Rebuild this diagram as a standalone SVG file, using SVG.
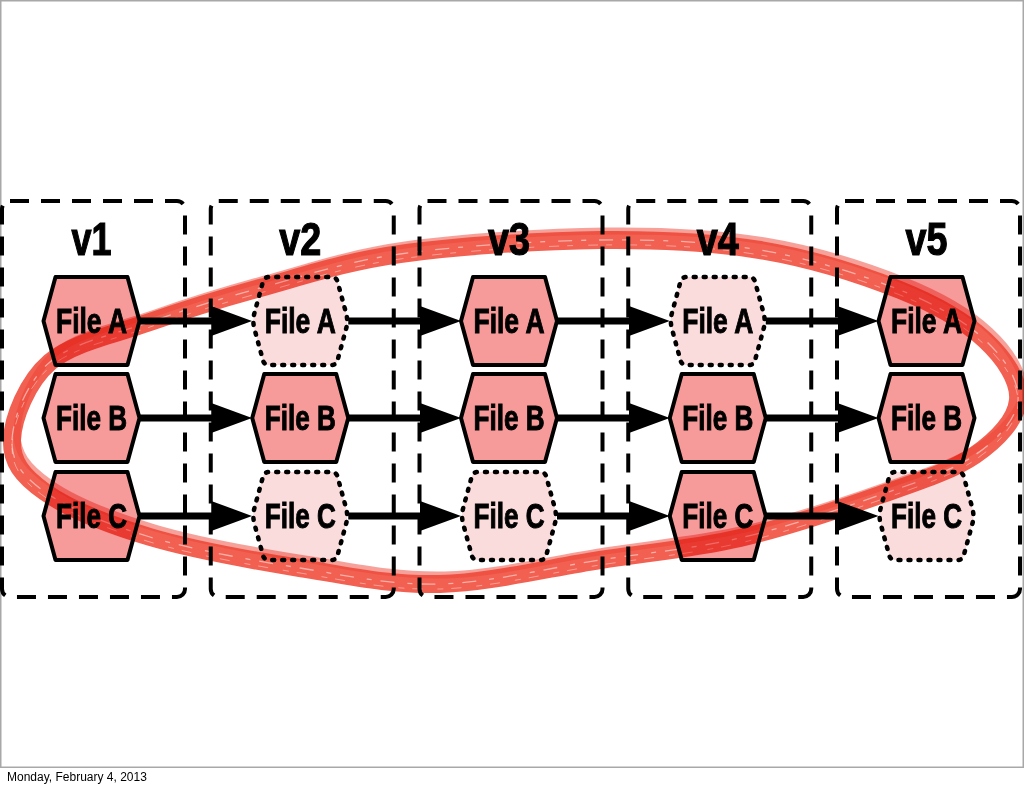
<svg xmlns="http://www.w3.org/2000/svg" xmlns:xlink="http://www.w3.org/1999/xlink" width="1024" height="788" viewBox="0 0 1024 788">
<style>
.frame{fill:#ffffff;stroke:#a8a8a8;stroke-width:1.5}
.box{fill:none;stroke:#000;stroke-width:4;stroke-dasharray:19 12}
.title{font-family:"Liberation Sans",Arial,sans-serif;font-weight:bold;font-size:46px;fill:#000;stroke:#000;stroke-width:1.2;text-anchor:middle}
.lbl{font-family:"Liberation Sans",Arial,sans-serif;font-weight:bold;font-size:35px;fill:#000;stroke:#000;stroke-width:1;text-anchor:middle}
.solid{fill:#f79a9a;stroke:#000;stroke-width:4;stroke-linejoin:round}
.dotted{fill:#fbdcdc;stroke:#000;stroke-width:4.5;stroke-dasharray:2 8;stroke-linecap:round}
.arrow{stroke:#000;stroke-width:7;fill:none;marker-end:url(#head)}
.loop{fill:none;stroke:#ee4433;stroke-linecap:round;stroke-linejoin:round}
.foot{font-family:"Liberation Sans",Arial,sans-serif;font-size:12px;fill:#000}
</style>
<defs>
<marker id="head" markerUnits="userSpaceOnUse" markerWidth="41" markerHeight="30" viewBox="0 0 41 30" refX="26" refY="15" orient="auto">
<path d="M0,0 L41,15 L0,30 Z" fill="#000"/>
</marker>
<polygon id="hexS" class="solid" points="-48,0 -36,-44 36,-44 48,0 36,44 -36,44"/>
<path id="hexD" class="dotted" d="M-45.8,-8 Q-48,0 -45.8,8 L-37.2,39.6 Q-36,44 -31,44 L31,44 Q36,44 37.2,39.6 L45.8,8 Q48,0 45.8,-8 L37.2,-39.6 Q36,-44 31,-44 L-31,-44 Q-36,-44 -37.2,-39.6 Z"/>
<path id="loopPath" d="M12,440 C12.8,418.3 27,381.7 50,362 C73,342.3 115,334.3 150,322 C185,309.7 218.3,299.3 260,288 C301.7,276.7 343.3,262 400,254 C456.7,246 540,240.7 600,240 C660,239.3 710,241.7 760,250 C810,258.3 862.5,275 900,290 C937.5,305 965.3,321.7 985,340 C1004.7,358.3 1019.7,380.8 1018,400 C1016.3,419.2 998,439.2 975,455 C952,470.8 919.2,481.2 880,495 C840.8,508.8 786.7,527.2 740,538 C693.3,548.8 650,552.3 600,560 C550,567.7 490,582.7 440,584 C390,585.3 348.3,575.8 300,568 C251.7,560.2 192.5,549.7 150,537 C107.5,524.3 68,508.2 45,492 C22,475.8 11.2,461.7 12,440 Z"/>
</defs>
<rect class="frame" x="0.75" y="0.75" width="1022.5" height="766.5"/>

<g id="versions">
<g id="v1"><rect class="box" x="2" y="201" width="183" height="396" rx="8"/><text class="title" x="91.5" y="255" textLength="40" lengthAdjust="spacingAndGlyphs">v1</text></g>
<g id="v2"><rect class="box" x="210.75" y="201" width="183" height="396" rx="8"/><text class="title" x="300.25" y="255" textLength="42" lengthAdjust="spacingAndGlyphs">v2</text></g>
<g id="v3"><rect class="box" x="419.5" y="201" width="183" height="396" rx="8"/><text class="title" x="509" y="255" textLength="42" lengthAdjust="spacingAndGlyphs">v3</text></g>
<g id="v4"><rect class="box" x="628.25" y="201" width="183" height="396" rx="8"/><text class="title" x="717.75" y="255" textLength="42" lengthAdjust="spacingAndGlyphs">v4</text></g>
<g id="v5"><rect class="box" x="837" y="201" width="183" height="396" rx="8"/><text class="title" x="926.5" y="255" textLength="42" lengthAdjust="spacingAndGlyphs">v5</text></g>
</g>

<g id="connectors">
<line class="arrow" x1="139.5" y1="321" x2="237.25" y2="321"/>
<line class="arrow" x1="348.25" y1="321" x2="446" y2="321"/>
<line class="arrow" x1="557" y1="321" x2="654.75" y2="321"/>
<line class="arrow" x1="765.75" y1="321" x2="863.5" y2="321"/>
<line class="arrow" x1="139.5" y1="418" x2="237.25" y2="418"/>
<line class="arrow" x1="348.25" y1="418" x2="446" y2="418"/>
<line class="arrow" x1="557" y1="418" x2="654.75" y2="418"/>
<line class="arrow" x1="765.75" y1="418" x2="863.5" y2="418"/>
<line class="arrow" x1="139.5" y1="516" x2="237.25" y2="516"/>
<line class="arrow" x1="348.25" y1="516" x2="446" y2="516"/>
<line class="arrow" x1="557" y1="516" x2="654.75" y2="516"/>
<line class="arrow" x1="765.75" y1="516" x2="863.5" y2="516"/>
</g>

<g id="v1-fileA"><use xlink:href="#hexS" x="91.5" y="321"/><text class="lbl" x="91.5" y="333" textLength="71" lengthAdjust="spacingAndGlyphs">File A</text></g>
<g id="v1-fileB"><use xlink:href="#hexS" x="91.5" y="418"/><text class="lbl" x="91.5" y="430" textLength="71" lengthAdjust="spacingAndGlyphs">File B</text></g>
<g id="v1-fileC"><use xlink:href="#hexS" x="91.5" y="516"/><text class="lbl" x="91.5" y="528" textLength="71" lengthAdjust="spacingAndGlyphs">File C</text></g>

<g id="v2-fileA"><use xlink:href="#hexD" x="300.25" y="321"/><text class="lbl" x="300.25" y="333" textLength="71" lengthAdjust="spacingAndGlyphs">File A</text></g>
<g id="v2-fileB"><use xlink:href="#hexS" x="300.25" y="418"/><text class="lbl" x="300.25" y="430" textLength="71" lengthAdjust="spacingAndGlyphs">File B</text></g>
<g id="v2-fileC"><use xlink:href="#hexD" x="300.25" y="516"/><text class="lbl" x="300.25" y="528" textLength="71" lengthAdjust="spacingAndGlyphs">File C</text></g>

<g id="v3-fileA"><use xlink:href="#hexS" x="509" y="321"/><text class="lbl" x="509" y="333" textLength="71" lengthAdjust="spacingAndGlyphs">File A</text></g>
<g id="v3-fileB"><use xlink:href="#hexS" x="509" y="418"/><text class="lbl" x="509" y="430" textLength="71" lengthAdjust="spacingAndGlyphs">File B</text></g>
<g id="v3-fileC"><use xlink:href="#hexD" x="509" y="516"/><text class="lbl" x="509" y="528" textLength="71" lengthAdjust="spacingAndGlyphs">File C</text></g>

<g id="v4-fileA"><use xlink:href="#hexD" x="717.75" y="321"/><text class="lbl" x="717.75" y="333" textLength="71" lengthAdjust="spacingAndGlyphs">File A</text></g>
<g id="v4-fileB"><use xlink:href="#hexS" x="717.75" y="418"/><text class="lbl" x="717.75" y="430" textLength="71" lengthAdjust="spacingAndGlyphs">File B</text></g>
<g id="v4-fileC"><use xlink:href="#hexS" x="717.75" y="516"/><text class="lbl" x="717.75" y="528" textLength="71" lengthAdjust="spacingAndGlyphs">File C</text></g>

<g id="v5-fileA"><use xlink:href="#hexS" x="926.5" y="321"/><text class="lbl" x="926.5" y="333" textLength="71" lengthAdjust="spacingAndGlyphs">File A</text></g>
<g id="v5-fileB"><use xlink:href="#hexS" x="926.5" y="418"/><text class="lbl" x="926.5" y="430" textLength="71" lengthAdjust="spacingAndGlyphs">File B</text></g>
<g id="v5-fileC"><use xlink:href="#hexD" x="926.5" y="516"/><text class="lbl" x="926.5" y="528" textLength="71" lengthAdjust="spacingAndGlyphs">File C</text></g>

<g id="highlight" style="mix-blend-mode:multiply">
<use xlink:href="#loopPath" class="loop" style="stroke-width:18;opacity:0.85"/>
<use xlink:href="#loopPath" class="loop" transform="translate(5,-9)" style="stroke-width:7;opacity:0.5"/>
<use xlink:href="#loopPath" fill="none" stroke="#ffffff" style="stroke-width:1.3;opacity:0.5;stroke-dasharray:14 9 5 13"/>
<use xlink:href="#loopPath" fill="none" stroke="#ffffff" transform="translate(0,5)" style="stroke-width:1;opacity:0.4;stroke-dasharray:6 15 10 8"/>
</g>

<text class="foot" x="7" y="781">Monday, February 4, 2013</text>
</svg>
